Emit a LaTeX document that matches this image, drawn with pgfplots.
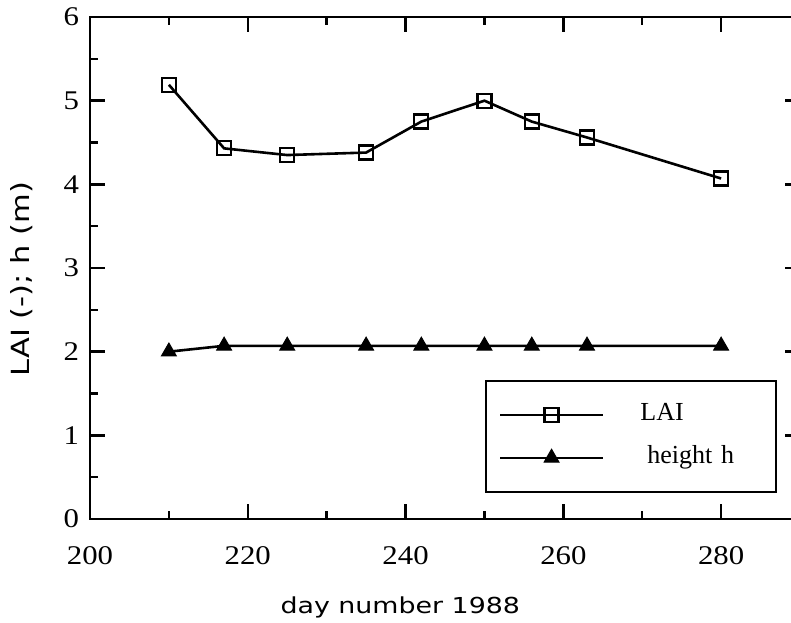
\documentclass[border=0pt]{standalone}
\usepackage{pgfplots}
\pgfplotsset{compat=1.18}
\usepackage{fontspec}
\setmainfont{Liberation Serif}
\newfontfamily\tickfont[FakeStretch=1.14]{Liberation Serif}
\newfontfamily\labfont[FakeStretch=1.22]{DejaVu Sans}
\begin{document}
\begin{tikzpicture}
\useasboundingbox (-45pt,-51.5pt) rectangle (350.5pt,259.5pt);
\clip (-45pt,-51.5pt) rectangle (350.5pt,259.5pt);
\begin{axis}[
  scale only axis, width=355pt, height=251pt,
  xmin=200, xmax=290, ymin=0, ymax=6,
  xtick={200,220,...,280}, minor x tick num=1,
  ytick={0,1,...,6}, minor y tick num=1,
  tick align=inside, major tick length=7.5pt, minor tick length=4pt,
  every tick/.style={line width=1.2pt, black},
  axis line style={line width=1.4pt},
  /pgf/number format/assume math mode=true,
  ticklabel style={font=\tickfont\fontsize{13.5}{15}\selectfont},
  xticklabel style={yshift=-10pt},
  yticklabel style={xshift=-2pt},
  xlabel={day number 1988},
  ylabel={LAI (-); h (m)},
  xlabel style={font=\labfont\fontsize{11}{13}\selectfont, at={(axis description cs:0.437,-0.189)}, anchor=base},
  ylabel style={font=\labfont\fontsize{12.5}{14}\selectfont, at={(axis description cs:-0.0958,0.478)}, anchor=center},
  legend cell align=left,
  legend image code/.code={\draw[mark repeat=2, mark phase=2, #1] plot coordinates {(0pt,0pt) (25.75pt,0pt) (51.5pt,0pt)};},
  legend style={at={(rel axis cs:0.556,0.052)}, anchor=south west, draw=black, line width=1pt,
    inner xsep=6.5pt, inner ysep=11pt, row sep=9.5pt,
    font=\fontsize{13}{15}\selectfont,
    nodes={inner sep=0pt, text height=9pt, text depth=3pt, text width=61.5pt},
    /tikz/every odd column/.append style={column sep=18pt}},
]
\addplot[black, line width=1.3pt, mark=square, mark size=3.5pt, mark options={fill=white, line width=1.1pt}]
  coordinates {(210,5.19) (217,4.43) (225,4.35) (235,4.38) (242,4.75) (250,5.0) (256,4.75) (263,4.56) (280,4.07)};
\addlegendentry{LAI}
\addplot[black, line width=1.3pt, mark=triangle*, mark size=4.3pt, mark options={line width=0.5pt}]
  coordinates {(210,2.0) (217,2.07) (225,2.07) (235,2.07) (242,2.07) (250,2.07) (256,2.07) (263,2.07) (280,2.07)};
\addlegendentry{\hspace{3.5pt}height h}
\end{axis}
\end{tikzpicture}
\end{document}
